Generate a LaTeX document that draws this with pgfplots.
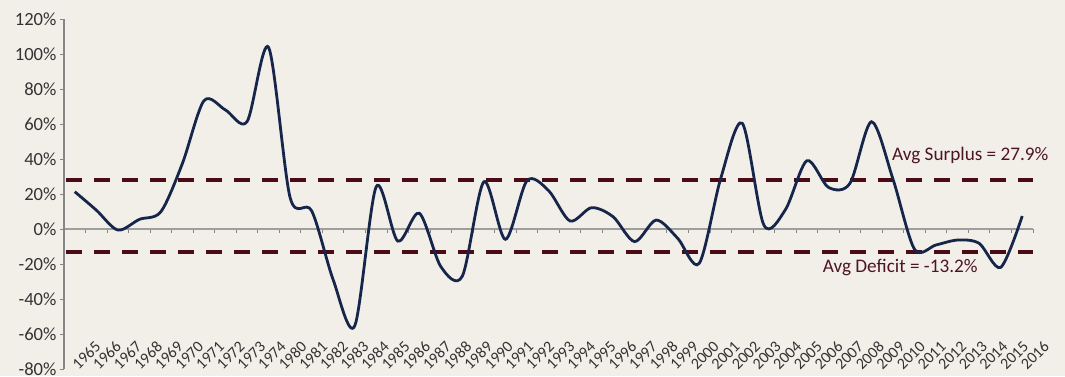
\documentclass[border=0pt]{standalone}
\usepackage{fontspec}
\setmainfont{Carlito}
\usepackage{pgfplots}
\pgfplotsset{compat=1.18}
\usepackage{pgfplotstable}

\definecolor{bgcol}{HTML}{F2EFE9}
\definecolor{navyline}{HTML}{16254A}
\definecolor{maroon}{HTML}{4A0A16}
\definecolor{maroontext}{HTML}{4E1424}
\definecolor{axisgray}{HTML}{9E9E9E}
\definecolor{ticktext}{HTML}{333333}

\newcommand{\tickfont}{\fontsize{18.6}{20}\selectfont}
\newcommand{\yearfont}{\fontsize{16}{17}\selectfont}

% yearly surplus / deficit, one row per plotted category
\pgfplotstableread{
idx  val
0    21.3
1    10.8
2    -0.6
3    5.5
4    9.9
5    37.5
6    73.3
7    68.0
8    61.3
9    103.8
10   18.0
11   10.4
12   -29.0
13   -55.4
14   24.2
15   -6.9
16   9.0
17   -21.5
18   -26.9
19   27.0
20   -5.9
21   27.6
22   22.0
23   4.6
24   12.2
25   7.0
26   -7.2
27   5.1
28   -5.3
29   -19.6
30   29.0
31   60.4
32   2.3
33   11.0
34   39.0
35   23.8
36   26.1
37   61.3
38   28.4
39   -11.6
40   -9.1
41   -6.3
42   -8.2
43   -21.9
44   7.4
}\surplusdata

\begin{document}
\begin{tikzpicture}
\fill[bgcol] (-64pt,-7pt) rectangle (1001pt,369pt);
\useasboundingbox (-64pt,-7pt) rectangle (1001pt,369pt);

% main axis: values, zero line and category ticks
\begin{axis}[
  at={(0pt,0pt)}, anchor=south west,
  scale only axis, width=969pt, height=350pt,
  xmin=-0.5, xmax=44.5, ymin=-80, ymax=120,
  axis x line=middle, axis y line=left,
  x axis line style={-, draw=axisgray, line width=1.6pt},
  y axis line style={-, draw=axisgray!85!black, line width=1.2pt},
  xtick={-0.5,0.5,...,44.6}, xticklabels={},
  ytick={-80,-60,...,120},
  yticklabel={\pgfmathprintnumber{\tick}\%},
  /pgf/number format/assume math mode=true,
  tick align=outside, major tick length=4pt,
  tick style={draw=axisgray!85!black, line width=0.9pt},
  every tick label/.append style={font=\tickfont, text=ticktext},
  clip=false,
]
\addplot[maroon, line width=4.6pt, dash pattern=on 16pt off 12pt, dash phase=-2pt]
  coordinates {(-0.5,27.9) (44.5,27.9)};
\addplot[maroon, line width=4.6pt, dash pattern=on 16pt off 12pt, dash phase=-2pt]
  coordinates {(-0.5,-13.2) (44.5,-13.2)};
\addplot[navyline, line width=2.8pt, smooth] table[x=idx, y=val] {\surplusdata};
\node[anchor=base west, inner sep=0pt, text=maroontext,
  font=\fontsize{19.2}{21}\selectfont] at (axis cs:37.95,38.9) {Avg Surplus = 27.9\%};
\node[anchor=base west, inner sep=0pt, text=maroontext,
  font=\fontsize{19.2}{21}\selectfont] at (axis cs:34.73,-25) {Avg Deficit = -13.2\%};
\end{axis}

% year labels along the bottom
\begin{axis}[
  at={(0pt,27.5pt)}, anchor=south west,
  scale only axis, width=1000pt, height=10pt,
  xmin=0, xmax=1000, ymin=0, ymax=1,
  hide y axis, axis x line*=bottom, x axis line style={draw=none},
  xtick={36.2,56.82,...,985}, major tick length=0pt,
  every tick label/.append style={font=\yearfont, text=ticktext},
  xticklabel style={rotate=45, anchor=east},
  xticklabels={1965,1966,1967,1968,1969,1970,1971,1972,1973,1974,
    1980,1981,1982,1983,1984,1985,1986,1987,1988,1989,1990,1991,1992,
    1993,1994,1995,1996,1997,1998,1999,2000,2001,2002,2003,2004,2005,
    2006,2007,2008,2009,2010,2011,2012,2013,2014,2015,2016},
]
\end{axis}
\end{tikzpicture}
\end{document}
